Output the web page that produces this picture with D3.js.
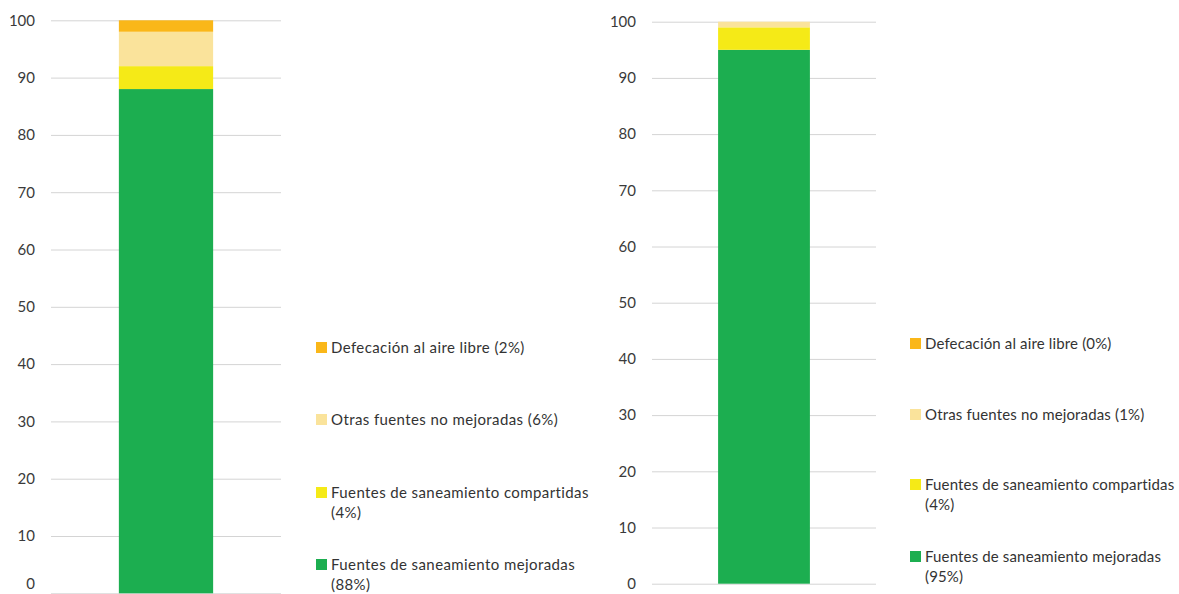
<!DOCTYPE html>
<html>
<head>
<meta charset="utf-8">
<script src="https://cdn.jsdelivr.net/npm/d3@7"></script>
<style>
  html, body { margin: 0; padding: 0; background: #ffffff; }
  svg { display: block; }
  text { font-family: Lato, "Open Sans", sans-serif; }
</style>
</head>
<body>
<svg id="chart" width="1179" height="594"></svg>
<script>
// ---- data ----
const seriesNames = [
  "Fuentes de saneamiento mejoradas",
  "Fuentes de saneamiento compartidas",
  "Otras fuentes no mejoradas",
  "Defecación al aire libre"
];
const seriesColors = ["#1cae50", "#f5ea17", "#fae39b", "#fab719"];
const leftValues = [88, 4, 6, 2];
const rightValues = [95, 4, 1, 0];
const yTicks = [0, 10, 20, 30, 40, 50, 60, 70, 80, 90, 100];
const categories = ["Total"];

const svg = d3.select("#chart");

function drawPanel(cfg) {
  const g = svg.append("g");
  const y = d3.scaleLinear().domain([0, 100]).range([cfg.y0, cfg.y100]);
  const x = d3.scaleBand().domain(categories).range([cfg.gx0, cfg.gx1])
    .paddingInner(0).paddingOuter(0.72);

  // gridlines
  const axis = d3.axisLeft(y).tickValues(yTicks).tickSize(-(cfg.gx1 - cfg.gx0)).tickPadding(16);
  const ax = g.append("g").attr("transform", `translate(${cfg.gx0},0)`).call(axis);
  ax.select(".domain").remove();
  ax.selectAll(".tick line").attr("stroke", "#d4d4d4").attr("stroke-width", 1);
  ax.selectAll(".tick text").attr("fill", "#3a3a3a").style("font-size", "15px")
    .style("font-family", "Lato, 'Open Sans', sans-serif");
  // keep the bottom label inside the picture
  ax.selectAll(".tick text").filter(d => d === 0 && cfg.y0 > 588)
    .attr("dy", "-0.3em");

  // stacked bar
  const row = { cat: categories[0] };
  seriesNames.forEach((n, i) => row[n] = cfg.values[i]);
  const stack = d3.stack().keys(seriesNames)([row]);
  g.selectAll("rect.seg").data(stack).join("rect")
    .attr("class", "seg")
    .attr("x", d => x(d[0].data.cat))
    .attr("width", x.bandwidth())
    .attr("y", d => y(d[0][1]))
    .attr("height", d => y(d[0][0]) - y(d[0][1]))
    .attr("fill", (d, i) => seriesColors[i]);

  // legend (top to bottom: reverse order)
  const order = [3, 2, 1, 0];
  order.forEach((si, k) => {
    const ly = cfg.legendY[k];
    const lg = g.append("g").attr("transform", `translate(${cfg.lx},${ly})`);
    lg.append("rect").attr("x", 0).attr("y", -6).attr("width", 11).attr("height", 11)
      .attr("fill", seriesColors[si]);
    const name = seriesNames[si];
    const pct = `(${cfg.values[si]}%)`;
    const lines = name.length > 30 ? [name, pct] : [name + " " + pct];
    lines.forEach((ln, j) => {
      lg.append("text").attr("x", 15).attr("y", j * cfg.lineH).attr("dy", "0.35em")
        .attr("fill", "#333333").style("font-size", "15px")
        .style("letter-spacing", cfg.spacing).text(ln);
    });
  });
}

drawPanel({
  values: leftValues, y0: 593.3, y100: 20.3, gx0: 51, gx1: 281,
  lx: 316, legendY: [348, 420, 493, 565], lineH: 20, spacing: "0.4px"
});
drawPanel({
  values: rightValues, y0: 583.7, y100: 21.7, gx0: 652, gx1: 876,
  lx: 910, legendY: [344, 415, 485, 557], lineH: 20, spacing: "0.15px"
});
</script>
</body>
</html>
